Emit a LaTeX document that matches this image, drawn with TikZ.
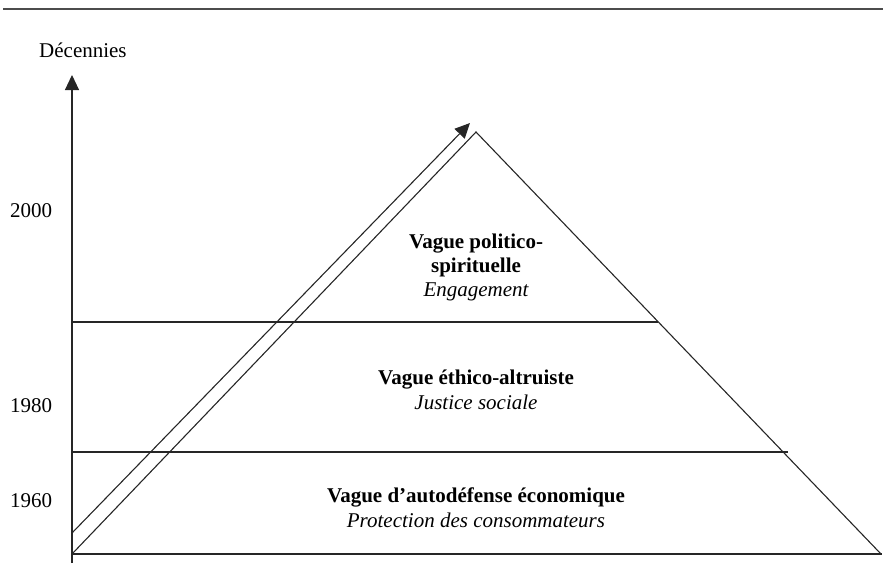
\documentclass[tikz,border=0pt]{standalone}
\usepackage{fontspec}
\setmainfont{Liberation Serif}
\usetikzlibrary{arrows.meta}
\begin{document}
\begin{tikzpicture}[x=1pt,y=-1pt,
  lbl/.style={inner sep=0pt,font=\fontsize{21}{25}\selectfont},
  blbl/.style={lbl,font=\fontsize{21}{25}\selectfont\bfseries},
  ilbl/.style={lbl,font=\fontsize{21}{25}\selectfont\itshape},
  ln/.style={line width=1.1pt,black!85},
  tip/.style={-{Triangle[width=14pt,length=15pt]}}]
\useasboundingbox (0,0) rectangle (883,584);
% top rule
\coordinate (r1) at (3,9);
\coordinate (r2) at (883,9);
\draw[line width=1.8pt,black!70] (r1) -- (r2);
% axes
\coordinate (axb) at (72,563);
\coordinate (axt) at (72,75);
\coordinate (o) at (72,554);
\coordinate (br) at (882,554);
\draw[ln,tip] (axb) -- (axt);
\draw[ln] (o) -- (br);
% triangle
\coordinate (apex) at (476,132);
\coordinate (rv) at (881,554);
\draw[ln] (o) -- (apex) -- (rv);
% bands
\coordinate (a1) at (72,322);
\coordinate (a2) at (658,322);
\coordinate (b1) at (72,452);
\coordinate (b2) at (788,452);
\draw[ln] (a1) -- (a2);
\draw[ln] (b1) -- (b2);
% diagonal arrow
\coordinate (d1) at (72,533);
\coordinate (d2) at (470,123);
\draw[ln,tip] (d1) -- (d2);
% labels
\node[lbl,anchor=base west] (dec) at (39,57) {Décennies};
\node[lbl,anchor=base west] (y2000) at (10,217) {2000};
\node[lbl,anchor=base west] (y1980) at (10,412) {1980};
\node[lbl,anchor=base west] (y1960) at (10,507) {1960};
\node[blbl,anchor=base] (p1) at (476,248) {Vague politico-};
\node[blbl,anchor=base] (p2) at (476,272) {spirituelle};
\node[ilbl,anchor=base] (p3) at (476,296) {Engagement};
\node[blbl,anchor=base] (e1) at (476,384) {Vague éthico-altruiste};
\node[ilbl,anchor=base] (e2) at (476,409) {Justice sociale};
\node[blbl,anchor=base] (c1) at (476,502) {Vague d’autodéfense économique};
\node[ilbl,anchor=base] (c2) at (476,527) {Protection des consommateurs};
\end{tikzpicture}
\end{document}
